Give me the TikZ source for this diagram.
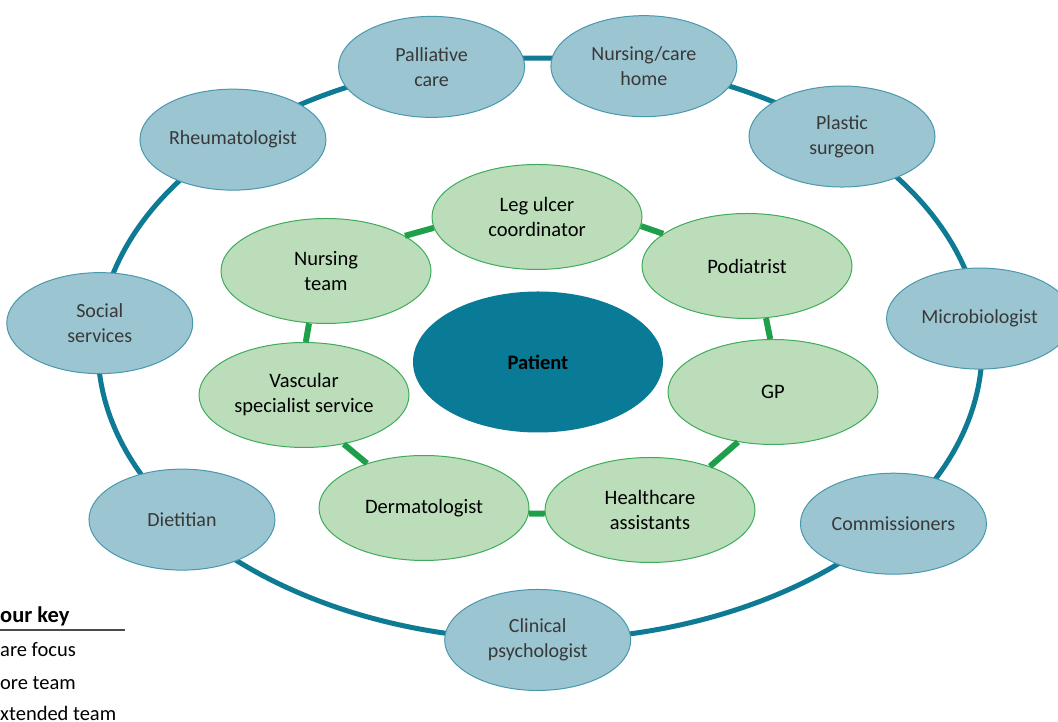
\documentclass[tikz,border=0pt]{standalone}
\usepackage{fontspec}
\setmainfont{Carlito}
\usetikzlibrary{shapes.geometric,backgrounds}

\definecolor{ringteal}{RGB}{14,122,148}
\definecolor{outerfill}{RGB}{156,197,210}
\definecolor{outeredge}{RGB}{72,152,174}
\definecolor{innerfill}{RGB}{187,221,185}
\definecolor{inneredge}{RGB}{62,172,92}
\definecolor{coregreen}{RGB}{30,160,75}
\definecolor{patientfill}{RGB}{10,123,150}

\tikzstyle{extteam} = [ellipse, draw=outeredge, fill=outerfill, line width=1pt, minimum width=186pt, minimum height=101pt, inner sep=0pt, align=center, text=black!78, font=\fontsize{20}{25}\selectfont]
\tikzstyle{coreteam} = [ellipse, draw=inneredge, fill=innerfill, line width=1pt, minimum width=210pt, minimum height=105pt, inner sep=0pt, align=center, text=black, font=\fontsize{20.5}{25}\selectfont]
\tikzstyle{carefocus} = [ellipse, fill=patientfill, minimum width=250pt, minimum height=141pt, inner sep=0pt, font=\bfseries\fontsize{20.5}{25}\selectfont]
\tikzstyle{teamring} = [draw=ringteal, line width=5pt]
\tikzstyle{corelink} = [draw=coregreen, line width=6pt]
\tikzstyle{keyentry} = [anchor=base west, inner sep=0pt, font=\fontsize{20.5}{25}\selectfont]

\begin{document}
\begin{tikzpicture}[x=1pt,y=1pt]
    \useasboundingbox (0,0) rectangle (1058,722);
    \clip (0,0) rectangle (1058,722);

    % care focus
    \node[carefocus] (patient) at (538,360) {Patient};

    % core team
    \node[coreteam] (leg) at (537,505) {Leg ulcer\\coordinator};
    \node[coreteam] (nurse) at (326,451) {Nursing\\team};
    \node[coreteam] (pod) at (747,456) {Podiatrist};
    \node[coreteam] (vasc) at (304,327) {Vascular\\specialist service};
    \node[coreteam] (gp) at (773,330) {GP};
    \node[coreteam] (derm) at (424,214) {Dermatologist};
    \node[coreteam] (hca) at (650,212) {Healthcare\\assistants};

    \draw[corelink] (nurse.24) -- (leg.186);
    \draw[corelink] (leg.355) -- (pod.159);
    \draw[corelink] (pod.290) -- (gp.93);
    \draw[corelink] (gp.235) -- (hca.36);
    \draw[corelink] (hca.182) -- (derm.357);
    \draw[corelink] (derm.142) -- (vasc.309);
    \draw[corelink] (vasc.88) -- (nurse.252);

    % extended team on the outer ring
    \begin{scope}[shift={(540,373)}]
      \node[extteam] (micro) at (6:442pt and 291pt) {Microbiologist};
      \node[extteam] (plastic) at (46.9:442pt and 291pt) {Plastic\\surgeon};
      \node[extteam] (carehome) at (76.4:442pt and 291pt) {Nursing/care\\home};
      \node[extteam] (palliative) at (104.2:442pt and 291pt) {Palliative\\care};
      \node[extteam] (rheum) at (134:442pt and 291pt) {Rheumatologist};
      \node[extteam] (social) at (174.9:442pt and 291pt) {Social\\services};
      \node[extteam] (diet) at (215.9:442pt and 291pt) {Dietitian};
      \node[extteam] (psych) at (269.7:442pt and 291pt) {Clinical\\psychologist};
      \node[extteam] (comm) at (323.1:442pt and 291pt) {Commissioners};
    \end{scope}

    \begin{scope}[on background layer]
      \draw[teamring] (micro.center) arc[start angle=6, end angle=46.9, x radius=442pt, y radius=291pt];
      \draw[teamring] (plastic.center) arc[start angle=46.9, end angle=76.4, x radius=442pt, y radius=291pt];
      \draw[teamring] (carehome.center) arc[start angle=76.4, end angle=104.2, x radius=442pt, y radius=291pt];
      \draw[teamring] (palliative.center) arc[start angle=104.2, end angle=134, x radius=442pt, y radius=291pt];
      \draw[teamring] (rheum.center) arc[start angle=134, end angle=174.9, x radius=442pt, y radius=291pt];
      \draw[teamring] (social.center) arc[start angle=174.9, end angle=215.9, x radius=442pt, y radius=291pt];
      \draw[teamring] (diet.center) arc[start angle=215.9, end angle=269.7, x radius=442pt, y radius=291pt];
      \draw[teamring] (psych.center) arc[start angle=269.7, end angle=323.1, x radius=442pt, y radius=291pt];
      \draw[teamring] (comm.center) arc[start angle=323.1, end angle=366, x radius=442pt, y radius=291pt];
    \end{scope}

    % colour key
    \node[keyentry, font=\bfseries\fontsize{22.5}{25}\selectfont] (keytitle) at (0,99) {\llap{Col}our key};
    \draw[black!70, line width=1.2pt] (0,92) -- (125,92);
    \node[keyentry] (keycare) at (0,65) {\llap{C}are focus};
    \node[keyentry] (keycore) at (0,32) {\llap{C}ore team};
    \node[keyentry] (keyext) at (0,1) {\llap{E}xtended team};
\end{tikzpicture}
\end{document}
